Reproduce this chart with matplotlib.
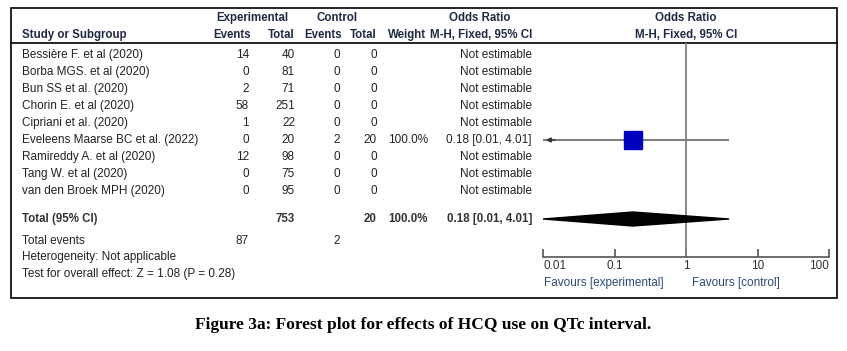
import numpy as np
import matplotlib.pyplot as plt
from matplotlib.patches import Rectangle, Polygon

plt.rcParams['font.family'] = ['Liberation Sans', 'DejaVu Sans']

# study-level data
studies = ['Bessière F. et al (2020)', 'Borba MGS. et al (2020)', 'Bun SS et al. (2020)',
           'Chorin E. et al (2020)', 'Cipriani et al. (2020)', 'Eveleens Maarse BC et al. (2022)',
           'Ramireddy A. et al (2020)', 'Tang W. et al (2020)', 'van den Broek MPH (2020)']
exp_events = [14, 0, 2, 58, 1, 0, 12, 0, 0]
exp_total = [40, 81, 71, 251, 22, 20, 98, 75, 95]
ctl_events = [0, 0, 0, 0, 0, 2, 0, 0, 0]
ctl_total = [0, 0, 0, 0, 0, 20, 0, 0, 0]
weights = ['', '', '', '', '', '100.0%', '', '', '']
odds = [np.nan, np.nan, np.nan, np.nan, np.nan, 0.18, np.nan, np.nan, np.nan]
ci_low = [np.nan, np.nan, np.nan, np.nan, np.nan, 0.01, np.nan, np.nan, np.nan]
ci_high = [np.nan, np.nan, np.nan, np.nan, np.nan, 4.01, np.nan, np.nan, np.nan]

# pooled result
total_exp, total_ctl = 753, 20
total_exp_events, total_ctl_events = 87, 2
pooled_or, pooled_low, pooled_high = 0.18, 0.01, 4.01
ticks = [0.01, 0.1, 1, 10, 100]
tick_labels = ['0.01', '0.1', '1', '10', '100']

W, H = 847, 351
fig = plt.figure(figsize=(W / 100, H / 100), dpi=100)
bg = fig.add_axes([0, 0, 1, 1])
bg.set_xlim(0, W)
bg.set_ylim(H, 0)
bg.axis('off')

head_c = '#1f2a44'
txt_c = '#222222'
fs = 8.5
hfs = 8.3

# frame and header rule
bg.add_patch(Rectangle((11, 8), 826, 290, fill=False, lw=1.2, ec='black'))
bg.plot([11, 837], [43, 43], color='black', lw=1.2)

# header
def head(x, y, s, ha='center'):
    bg.text(x, y, s, ha=ha, va='center', fontsize=hfs, fontweight='bold', color=head_c)

head(252, 18, 'Experimental')
head(337, 18, 'Control')
head(480, 18, 'Odds Ratio')
head(686, 18, 'Odds Ratio')
head(22, 35, 'Study or Subgroup', ha='left')
head(251, 35, 'Events', ha='right')
head(295, 35, 'Total', ha='right')
head(342, 35, 'Events', ha='right')
head(377, 35, 'Total', ha='right')
head(426, 35, 'Weight', ha='right')
head(532, 35, 'M-H, Fixed, 95% CI', ha='right')
head(686, 35, 'M-H, Fixed, 95% CI')

row_y = [55 + 17 * i for i in range(len(studies))]
for i, y in enumerate(row_y):
    bg.text(22, y, studies[i], ha='left', va='center', fontsize=fs, color=txt_c)
    bg.text(249, y, str(exp_events[i]), ha='right', va='center', fontsize=fs, color=txt_c)
    bg.text(295, y, str(exp_total[i]), ha='right', va='center', fontsize=fs, color=txt_c)
    bg.text(340, y, str(ctl_events[i]), ha='right', va='center', fontsize=fs, color=txt_c)
    bg.text(377, y, str(ctl_total[i]), ha='right', va='center', fontsize=fs, color=txt_c)
    bg.text(428, y, weights[i], ha='right', va='center', fontsize=fs, color=txt_c)
    if np.isnan(odds[i]):
        lab = 'Not estimable'
    else:
        lab = f'{odds[i]:.2f} [{ci_low[i]:.2f}, {ci_high[i]:.2f}]'
    bg.text(532, y, lab, ha='right', va='center', fontsize=fs, color=txt_c)

tot_y = 219
tot_c = '#333333'
bg.text(22, tot_y, 'Total (95% CI)', ha='left', va='center', fontsize=hfs, fontweight='bold', color=tot_c)
bg.text(295, tot_y, str(total_exp), ha='right', va='center', fontsize=hfs, fontweight='bold', color=tot_c)
bg.text(377, tot_y, str(total_ctl), ha='right', va='center', fontsize=hfs, fontweight='bold', color=tot_c)
bg.text(428, tot_y, '100.0%', ha='right', va='center', fontsize=hfs, fontweight='bold', color=tot_c)
bg.text(532, tot_y, f'{pooled_or:.2f} [{pooled_low:.2f}, {pooled_high:.2f}]', ha='right', va='center',
        fontsize=hfs, fontweight='bold', color=tot_c)
bg.text(22, 241, 'Total events', ha='left', va='center', fontsize=fs, color=txt_c)
bg.text(249, 241, str(total_exp_events), ha='right', va='center', fontsize=fs, color=txt_c)
bg.text(340, 241, str(total_ctl_events), ha='right', va='center', fontsize=fs, color=txt_c)
bg.text(22, 257, 'Heterogeneity: Not applicable', ha='left', va='center', fontsize=fs, color=txt_c)
bg.text(22, 274, 'Test for overall effect: Z = 1.08 (P = 0.28)', ha='left', va='center', fontsize=fs, color=txt_c)

bg.text(W / 2, 325, 'Figure 3a: Forest plot for effects of HCQ use on QTc interval.', ha='center',
        va='center', fontsize=12.5, fontweight='bold', family='Liberation Serif', color='black')

# forest panel: x log scale, y in the same pixel rows as the table
x0, x1, ytop, ybot = 543, 829, 43, 257
ax = fig.add_axes([x0 / W, 1 - ybot / H, (x1 - x0) / W, (ybot - ytop) / H])
ax.set_xscale('log')
ax.set_xlim(ticks[0], ticks[-1])
ax.set_ylim(ybot, ytop)
ax.patch.set_alpha(0)
for s in ['top', 'right', 'left']:
    ax.spines[s].set_visible(False)
ax.spines['bottom'].set_color('#555555')
ax.spines['bottom'].set_linewidth(1.2)
ax.set_yticks([])
ax.set_xticks(ticks)
ax.set_xticklabels(tick_labels)
ax.minorticks_off()
ax.tick_params(axis='x', direction='in', length=6, width=1.2, color='#555555',
               labelsize=fs, labelcolor='#333333', pad=2)
lbls = ax.get_xticklabels()
lbls[0].set_ha('left')
lbls[-1].set_ha('right')

ax.axvline(1, color='#808080', lw=1.3)

for i, y in enumerate(row_y):
    if np.isnan(odds[i]):
        continue
    ax.plot([ci_low[i], ci_high[i]], [y, y], color='#808080', lw=1.5, solid_capstyle='butt', zorder=2)
    if ci_low[i] <= ticks[0]:
        ax.annotate('', xy=(ci_low[i], y), xytext=(ci_low[i] * 1.6, y),
                    arrowprops=dict(arrowstyle='-|>', color='#333333', lw=1, mutation_scale=7))
    ax.plot(odds[i], y, marker='s', ms=13, color='#0000c0', mec='#0000c0', zorder=3)

ax.add_patch(Polygon([(pooled_low, tot_y), (pooled_or, tot_y - 7), (pooled_high, tot_y), (pooled_or, tot_y + 7)],
                     closed=True, color='black', zorder=3))

fav_c = '#2b4a78'
bg.text(664, 283, 'Favours [experimental]', ha='right', va='center', fontsize=fs, color=fav_c)
bg.text(692, 283, 'Favours [control]', ha='left', va='center', fontsize=fs, color=fav_c)

fig.savefig('out.png', dpi=100)
